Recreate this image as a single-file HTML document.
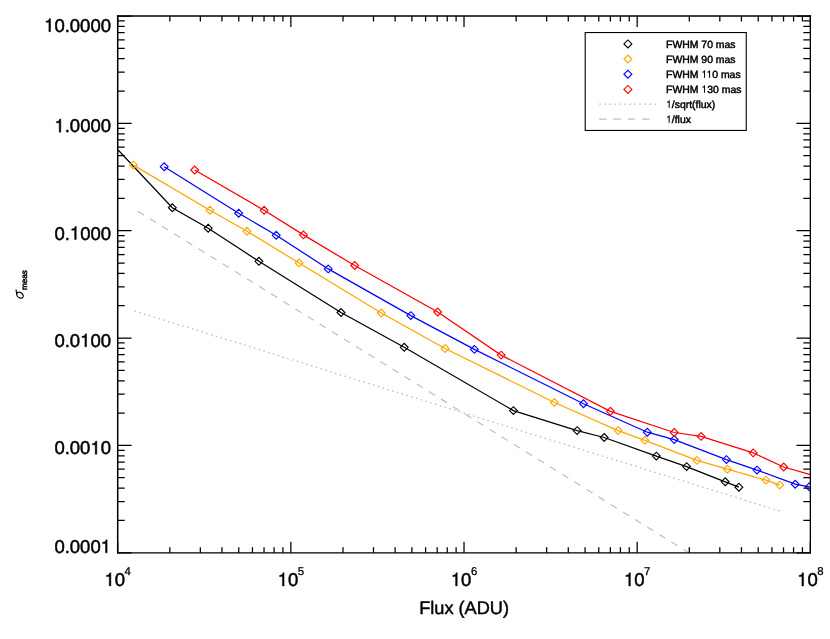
<!DOCTYPE html>
<html><head><meta charset="utf-8"><title>sigma vs flux</title>
<style>
html,body{margin:0;padding:0;background:#fff;}
body{width:830px;height:639px;overflow:hidden;font-family:"Liberation Sans",sans-serif;}
svg{display:block;will-change:transform;}
.h{fill:none;stroke:none;}
text{font-family:"Liberation Sans",sans-serif;fill:#000;text-rendering:geometricPrecision;stroke:#000;stroke-width:0.45px;stroke-linejoin:round;}
</style></head><body>
<svg width="830" height="639" viewBox="0 0 830 639">
<rect x="0" y="0" width="830" height="639" fill="#fff"/>
<defs><clipPath id="plot"><rect x="117.7" y="16" width="692.65" height="536.75"/></clipPath></defs>
<g fill="none" stroke="#bebebe" stroke-width="1.2" clip-path="url(#plot)">
<path d="M134.6 310.99L780.3 511.14" stroke-dasharray="1.6 3.391" stroke-width="1.3"/>
<path d="M137.8 211.16L691.4 554.36" stroke-dasharray="7.1 7.17"/>
</g>
<g fill="none" stroke-width="1.25" stroke-linejoin="miter" clip-path="url(#plot)">
<path d="M117.9 149.8L172.3 207.7L208.2 228.2L258.9 261.3L341 312.5L404.2 347.3L513.4 410.6L577.1 430.6L604.2 437.5L656.3 456.1L686.6 466.6L725.2 481.8L738.9 487.2" stroke="#000000"/>
<path d="M168.4 207.7l3.9 -3.9l3.9 3.9l-3.9 3.9zM204.3 228.2l3.9 -3.9l3.9 3.9l-3.9 3.9zM255 261.3l3.9 -3.9l3.9 3.9l-3.9 3.9zM337.1 312.5l3.9 -3.9l3.9 3.9l-3.9 3.9zM400.3 347.3l3.9 -3.9l3.9 3.9l-3.9 3.9zM509.5 410.6l3.9 -3.9l3.9 3.9l-3.9 3.9zM573.2 430.6l3.9 -3.9l3.9 3.9l-3.9 3.9zM600.3 437.5l3.9 -3.9l3.9 3.9l-3.9 3.9zM652.4 456.1l3.9 -3.9l3.9 3.9l-3.9 3.9zM682.7 466.6l3.9 -3.9l3.9 3.9l-3.9 3.9zM721.3 481.8l3.9 -3.9l3.9 3.9l-3.9 3.9zM735 487.2l3.9 -3.9l3.9 3.9l-3.9 3.9z" stroke="#000000" stroke-width="1.15"/>
<path d="M133.4 165.1L209.9 210.2L247 231.2L299.1 263L381.3 313L445.1 348.5L554.4 402.5L618.1 430.6L644.9 440.3L696.9 460.4L727.4 469.2L765.9 480.1L779.7 485.1" stroke="#ffa500"/>
<path d="M129.5 165.1l3.9 -3.9l3.9 3.9l-3.9 3.9zM206 210.2l3.9 -3.9l3.9 3.9l-3.9 3.9zM243.1 231.2l3.9 -3.9l3.9 3.9l-3.9 3.9zM295.2 263l3.9 -3.9l3.9 3.9l-3.9 3.9zM377.4 313l3.9 -3.9l3.9 3.9l-3.9 3.9zM441.2 348.5l3.9 -3.9l3.9 3.9l-3.9 3.9zM550.5 402.5l3.9 -3.9l3.9 3.9l-3.9 3.9zM614.2 430.6l3.9 -3.9l3.9 3.9l-3.9 3.9zM641 440.3l3.9 -3.9l3.9 3.9l-3.9 3.9zM693 460.4l3.9 -3.9l3.9 3.9l-3.9 3.9zM723.5 469.2l3.9 -3.9l3.9 3.9l-3.9 3.9zM762 480.1l3.9 -3.9l3.9 3.9l-3.9 3.9zM775.8 485.1l3.9 -3.9l3.9 3.9l-3.9 3.9z" stroke="#ffa500" stroke-width="1.15"/>
<path d="M164.2 166.7L238.7 213.2L276.2 235.3L328.2 268.9L410.8 315.6L474.4 349.4L583.5 403.7L647.3 432.2L674.2 439.6L726.4 459.6L757 470.1L795.2 484.2L809.3 486.8" stroke="#0000ff"/>
<path d="M160.3 166.7l3.9 -3.9l3.9 3.9l-3.9 3.9zM234.8 213.2l3.9 -3.9l3.9 3.9l-3.9 3.9zM272.3 235.3l3.9 -3.9l3.9 3.9l-3.9 3.9zM324.3 268.9l3.9 -3.9l3.9 3.9l-3.9 3.9zM406.9 315.6l3.9 -3.9l3.9 3.9l-3.9 3.9zM470.5 349.4l3.9 -3.9l3.9 3.9l-3.9 3.9zM579.6 403.7l3.9 -3.9l3.9 3.9l-3.9 3.9zM643.4 432.2l3.9 -3.9l3.9 3.9l-3.9 3.9zM670.3 439.6l3.9 -3.9l3.9 3.9l-3.9 3.9zM722.5 459.6l3.9 -3.9l3.9 3.9l-3.9 3.9zM753.1 470.1l3.9 -3.9l3.9 3.9l-3.9 3.9zM791.3 484.2l3.9 -3.9l3.9 3.9l-3.9 3.9zM805.4 486.8l3.9 -3.9l3.9 3.9l-3.9 3.9z" stroke="#0000ff" stroke-width="1.15"/>
<path d="M194.7 170L264.1 210.3L303.4 234.9L354.7 265.5L437.7 312L501.1 355.1L610.4 411.3L674.2 432.5L701.1 436.4L753.2 452.9L783.7 467L810.4 474.6" stroke="#ff0000"/>
<path d="M190.8 170l3.9 -3.9l3.9 3.9l-3.9 3.9zM260.2 210.3l3.9 -3.9l3.9 3.9l-3.9 3.9zM299.5 234.9l3.9 -3.9l3.9 3.9l-3.9 3.9zM350.8 265.5l3.9 -3.9l3.9 3.9l-3.9 3.9zM433.8 312l3.9 -3.9l3.9 3.9l-3.9 3.9zM497.2 355.1l3.9 -3.9l3.9 3.9l-3.9 3.9zM606.5 411.3l3.9 -3.9l3.9 3.9l-3.9 3.9zM670.3 432.5l3.9 -3.9l3.9 3.9l-3.9 3.9zM697.2 436.4l3.9 -3.9l3.9 3.9l-3.9 3.9zM749.3 452.9l3.9 -3.9l3.9 3.9l-3.9 3.9zM779.8 467l3.9 -3.9l3.9 3.9l-3.9 3.9z" stroke="#ff0000" stroke-width="1.15"/>
</g>
<g fill="none" stroke="#000" stroke-width="1.5" stroke-linecap="butt">
<path d="M117.7 16H810.35" stroke-width="1.5" stroke-linecap="square"/>
<path d="M117.7 552.8H810.35" stroke-width="1.2" stroke-linecap="square"/>
<path d="M117.7 16V552.75" stroke-width="1.5" stroke-linecap="square"/>
<path d="M810.35 16V552.75" stroke-width="1.3" stroke-linecap="square"/>
<path d="M117.7 552.75v-10.9M117.7 16v10.9M169.83 552.75v-5.6M169.83 16v5.6M200.32 552.75v-5.6M200.32 16v5.6M221.95 552.75v-5.6M221.95 16v5.6M238.74 552.75v-5.6M238.74 16v5.6M252.45 552.75v-5.6M252.45 16v5.6M264.04 552.75v-5.6M264.04 16v5.6M274.08 552.75v-5.6M274.08 16v5.6M282.94 552.75v-5.6M282.94 16v5.6M290.86 552.75v-10.9M290.86 16v10.9M342.99 552.75v-5.6M342.99 16v5.6M373.48 552.75v-5.6M373.48 16v5.6M395.12 552.75v-5.6M395.12 16v5.6M411.9 552.75v-5.6M411.9 16v5.6M425.61 552.75v-5.6M425.61 16v5.6M437.2 552.75v-5.6M437.2 16v5.6M447.24 552.75v-5.6M447.24 16v5.6M456.1 552.75v-5.6M456.1 16v5.6M464.02 552.75v-10.9M464.02 16v10.9M516.15 552.75v-5.6M516.15 16v5.6M546.64 552.75v-5.6M546.64 16v5.6M568.28 552.75v-5.6M568.28 16v5.6M585.06 552.75v-5.6M585.06 16v5.6M598.77 552.75v-5.6M598.77 16v5.6M610.36 552.75v-5.6M610.36 16v5.6M620.41 552.75v-5.6M620.41 16v5.6M629.26 552.75v-5.6M629.26 16v5.6M637.19 552.75v-10.9M637.19 16v10.9M689.31 552.75v-5.6M689.31 16v5.6M719.81 552.75v-5.6M719.81 16v5.6M741.44 552.75v-5.6M741.44 16v5.6M758.22 552.75v-5.6M758.22 16v5.6M771.93 552.75v-5.6M771.93 16v5.6M783.53 552.75v-5.6M783.53 16v5.6M793.57 552.75v-5.6M793.57 16v5.6M802.43 552.75v-5.6M802.43 16v5.6M810.35 552.75v-10.9M810.35 16v10.9M117.7 552.75h13.9M810.35 552.75h-13.9M117.7 520.43h7M810.35 520.43h-7M117.7 501.53h7M810.35 501.53h-7M117.7 488.12h7M810.35 488.12h-7M117.7 477.72h7M810.35 477.72h-7M117.7 469.22h7M810.35 469.22h-7M117.7 462.03h7M810.35 462.03h-7M117.7 455.8h7M810.35 455.8h-7M117.7 450.31h7M810.35 450.31h-7M117.7 445.4h13.9M810.35 445.4h-13.9M117.7 413.08h7M810.35 413.08h-7M117.7 394.18h7M810.35 394.18h-7M117.7 380.77h7M810.35 380.77h-7M117.7 370.37h7M810.35 370.37h-7M117.7 361.87h7M810.35 361.87h-7M117.7 354.68h7M810.35 354.68h-7M117.7 348.45h7M810.35 348.45h-7M117.7 342.96h7M810.35 342.96h-7M117.7 338.05h13.9M810.35 338.05h-13.9M117.7 305.73h7M810.35 305.73h-7M117.7 286.83h7M810.35 286.83h-7M117.7 273.42h7M810.35 273.42h-7M117.7 263.02h7M810.35 263.02h-7M117.7 254.52h7M810.35 254.52h-7M117.7 247.33h7M810.35 247.33h-7M117.7 241.1h7M810.35 241.1h-7M117.7 235.61h7M810.35 235.61h-7M117.7 230.7h13.9M810.35 230.7h-13.9M117.7 198.38h7M810.35 198.38h-7M117.7 179.48h7M810.35 179.48h-7M117.7 166.07h7M810.35 166.07h-7M117.7 155.67h7M810.35 155.67h-7M117.7 147.17h7M810.35 147.17h-7M117.7 139.98h7M810.35 139.98h-7M117.7 133.75h7M810.35 133.75h-7M117.7 128.26h7M810.35 128.26h-7M117.7 123.35h13.9M810.35 123.35h-13.9M117.7 91.03h7M810.35 91.03h-7M117.7 72.13h7M810.35 72.13h-7M117.7 58.72h7M810.35 58.72h-7M117.7 48.32h7M810.35 48.32h-7M117.7 39.82h7M810.35 39.82h-7M117.7 32.63h7M810.35 32.63h-7M117.7 26.4h7M810.35 26.4h-7M117.7 20.91h7M810.35 20.91h-7M117.7 16h13.9M810.35 16h-13.9" stroke-width="1.25"/>
</g>
<g font-size="18.5" text-anchor="end">
<text id="t0" x="111" y="31.7"><tspan class="h">1</tspan>0.0000</text>
<text id="t1" x="111" y="132.15"><tspan class="h">1</tspan>.0000</text>
<text id="t2" x="111" y="239.5">0.<tspan class="h">1</tspan>000</text>
<text id="t3" x="111" y="346.85">0.0<tspan class="h">1</tspan>00</text>
<text id="t4" x="111" y="454.2">0.00<tspan class="h">1</tspan>0</text>
<text id="t5" x="111" y="552.85">0.000<tspan class="h">1</tspan></text>
</g>
<g font-size="18.5" text-anchor="start">
<text id="t6" x="104.48" y="585.9"><tspan class="h">1</tspan>0<tspan font-size="11.4" dy="-10.5" dx="-0.5" stroke-width="0.28">4</tspan></text>
<text id="t7" x="277.65" y="585.9"><tspan class="h">1</tspan>0<tspan font-size="11.4" dy="-10.5" dx="-0.5" stroke-width="0.28">5</tspan></text>
<text id="t8" x="450.81" y="585.9"><tspan class="h">1</tspan>0<tspan font-size="11.4" dy="-10.5" dx="-0.5" stroke-width="0.28">6</tspan></text>
<text id="t9" x="623.97" y="585.9"><tspan class="h">1</tspan>0<tspan font-size="11.4" dy="-10.5" dx="-0.5" stroke-width="0.28">7</tspan></text>
<text id="t10" x="797.13" y="585.9"><tspan class="h">1</tspan>0<tspan font-size="11.4" dy="-10.5" dx="-0.5" stroke-width="0.28">8</tspan></text>
</g>
<text x="464.1" y="614.4" font-size="18.2" text-anchor="middle">Flux (ADU)</text>
<g transform="translate(24.0,298.9) rotate(-90)"><path d="M6.57 -4L6.66 -4.42L6.7 -4.83L6.68 -5.22L6.62 -5.6L6.51 -5.95L6.35 -6.26L6.15 -6.54L5.9 -6.77L5.62 -6.96L5.31 -7.09L4.97 -7.17L4.61 -7.2L4.23 -7.17L3.85 -7.09L3.46 -6.96L3.08 -6.77L2.71 -6.54L2.36 -6.26L2.03 -5.95L1.74 -5.6L1.47 -5.22L1.25 -4.83L1.07 -4.42L0.93 -4L0.84 -3.58L0.8 -3.17L0.82 -2.78L0.88 -2.4L0.99 -2.05L1.15 -1.74L1.35 -1.46L1.6 -1.23L1.88 -1.04L2.19 -0.91L2.53 -0.83L2.89 -0.8L3.27 -0.83L3.65 -0.91L4.04 -1.04L4.42 -1.23L4.79 -1.46L5.14 -1.74L5.47 -2.05L5.76 -2.4L6.03 -2.78L6.25 -3.17L6.43 -3.58L6.57 -4ZM4.3 -7.25L8.8 -7.85L9.25 -8.35" fill="none" stroke="#000" stroke-width="1.2" stroke-linejoin="round" stroke-linecap="butt"/></g>
<g transform="translate(24.3,299.6) rotate(-90)"><text x="9.5" y="2.6" font-size="8.2" stroke-width="0.06">meas</text></g>
<rect x="585.2" y="32.55" width="161.05" height="97.9" fill="#fff" stroke="#000" stroke-width="1.1"/>
<g fill="none" stroke-width="1.1">
<path d="M623.95 43.9l3.95 -3.95l3.95 3.95l-3.95 3.95z" stroke="#000000"/>
<path d="M623.95 59l3.95 -3.95l3.95 3.95l-3.95 3.95z" stroke="#ffa500"/>
<path d="M623.95 74.2l3.95 -3.95l3.95 3.95l-3.95 3.95z" stroke="#0000ff"/>
<path d="M623.95 89.4l3.95 -3.95l3.95 3.95l-3.95 3.95z" stroke="#ff0000"/>
<path d="M599.2 104.0H656" stroke="#bebebe" stroke-dasharray="1.6 3.41" stroke-width="1.25"/>
<path d="M599.2 119.1H655" stroke="#bebebe" stroke-dasharray="7.4 6.9"/>
</g>
<g font-size="10.45" stroke-width="0.1">
<text id="t11" x="666.0" y="47.75">FWHM 70 mas</text>
<text id="t12" x="666.0" y="62.75">FWHM 90 mas</text>
<text id="t13" x="666.0" y="77.7">FWHM <tspan class="h">1</tspan><tspan class="h">1</tspan>0 mas</text>
<text id="t14" x="666.0" y="92.7">FWHM <tspan class="h">1</tspan>30 mas</text>
<text id="t15" x="666.0" y="107.7"><tspan class="h">1</tspan>/sqrt(flux)</text>
<text id="t16" x="666.0" y="122.7"><tspan class="h">1</tspan>/flux</text>
</g>
<g>
<path d="M259 0V505H102V568C228 584 258 607 287 709H347V0Z" transform="translate(44.11 31.7) scale(0.01850 -0.01850)" fill="#000" stroke="#000" stroke-width="24.32" stroke-linejoin="round"/>
<path d="M259 0V505H102V568C228 584 258 607 287 709H347V0Z" transform="translate(54.41 132.15) scale(0.01850 -0.01850)" fill="#000" stroke="#000" stroke-width="24.32" stroke-linejoin="round"/>
<path d="M259 0V505H102V568C228 584 258 607 287 709H347V0Z" transform="translate(69.83 239.5) scale(0.01850 -0.01850)" fill="#000" stroke="#000" stroke-width="24.32" stroke-linejoin="round"/>
<path d="M259 0V505H102V568C228 584 258 607 287 709H347V0Z" transform="translate(80.12 346.85) scale(0.01850 -0.01850)" fill="#000" stroke="#000" stroke-width="24.32" stroke-linejoin="round"/>
<path d="M259 0V505H102V568C228 584 258 607 287 709H347V0Z" transform="translate(90.41 454.2) scale(0.01850 -0.01850)" fill="#000" stroke="#000" stroke-width="24.32" stroke-linejoin="round"/>
<path d="M259 0V505H102V568C228 584 258 607 287 709H347V0Z" transform="translate(100.7 552.85) scale(0.01850 -0.01850)" fill="#000" stroke="#000" stroke-width="24.32" stroke-linejoin="round"/>
<path d="M259 0V505H102V568C228 584 258 607 287 709H347V0Z" transform="translate(104.48 585.9) scale(0.01850 -0.01850)" fill="#000" stroke="#000" stroke-width="24.32" stroke-linejoin="round"/>
<path d="M259 0V505H102V568C228 584 258 607 287 709H347V0Z" transform="translate(277.65 585.9) scale(0.01850 -0.01850)" fill="#000" stroke="#000" stroke-width="24.32" stroke-linejoin="round"/>
<path d="M259 0V505H102V568C228 584 258 607 287 709H347V0Z" transform="translate(450.81 585.9) scale(0.01850 -0.01850)" fill="#000" stroke="#000" stroke-width="24.32" stroke-linejoin="round"/>
<path d="M259 0V505H102V568C228 584 258 607 287 709H347V0Z" transform="translate(623.97 585.9) scale(0.01850 -0.01850)" fill="#000" stroke="#000" stroke-width="24.32" stroke-linejoin="round"/>
<path d="M259 0V505H102V568C228 584 258 607 287 709H347V0Z" transform="translate(797.13 585.9) scale(0.01850 -0.01850)" fill="#000" stroke="#000" stroke-width="24.32" stroke-linejoin="round"/>
<path d="M259 0V505H102V568C228 584 258 607 287 709H347V0Z" transform="translate(701.36 77.7) scale(0.01045 -0.01045)" fill="#000" stroke="#000" stroke-width="9.57" stroke-linejoin="round"/>
<path d="M259 0V505H102V568C228 584 258 607 287 709H347V0Z" transform="translate(706.39 77.7) scale(0.01045 -0.01045)" fill="#000" stroke="#000" stroke-width="9.57" stroke-linejoin="round"/>
<path d="M259 0V505H102V568C228 584 258 607 287 709H347V0Z" transform="translate(701.36 92.7) scale(0.01045 -0.01045)" fill="#000" stroke="#000" stroke-width="9.57" stroke-linejoin="round"/>
<path d="M259 0V505H102V568C228 584 258 607 287 709H347V0Z" transform="translate(666 107.7) scale(0.01045 -0.01045)" fill="#000" stroke="#000" stroke-width="9.57" stroke-linejoin="round"/>
<path d="M259 0V505H102V568C228 584 258 607 287 709H347V0Z" transform="translate(666 122.7) scale(0.01045 -0.01045)" fill="#000" stroke="#000" stroke-width="9.57" stroke-linejoin="round"/>
</g>
</svg>
</body></html>
